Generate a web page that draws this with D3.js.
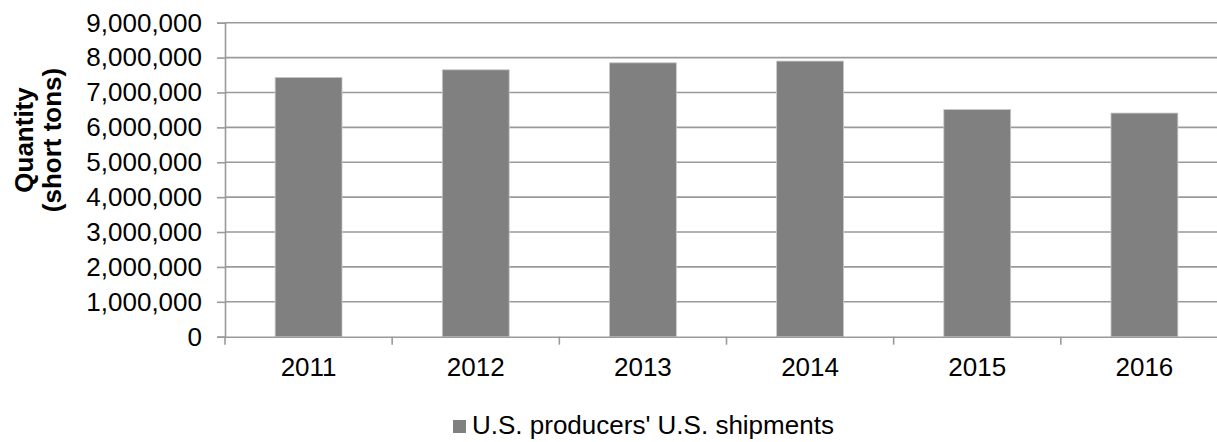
<!DOCTYPE html>
<html>
<head>
<meta charset="utf-8">
<script src="https://cdn.jsdelivr.net/npm/d3@7"></script>
<style>
  html, body { margin: 0; padding: 0; background: #fff; }
  svg { display: block; }
  text { font-family: "Liberation Sans", Arial, sans-serif; fill: #000; }
</style>
</head>
<body>
<svg id="chart" width="1217" height="442"></svg>
<script>
const categories = ["2011", "2012", "2013", "2014", "2015", "2016"];
const shipments = [7430000, 7650000, 7850000, 7900000, 6510000, 6410000];
const yTicks = [0, 1000000, 2000000, 3000000, 4000000, 5000000, 6000000, 7000000, 8000000, 9000000];
const seriesName = "U.S. producers' U.S. shipments";
const yTitle = ["Quantity", "(short tons)"];

const FONT = "Liberation Sans, Arial, sans-serif";
const FS = 26;

const svg = d3.select("#chart");
const plotLeft = 225, plotRight = 1228, plotTop = 22.7, plotBottom = 336.7;

const x = d3.scaleBand().domain(categories).range([plotLeft, plotRight])
  .paddingInner(0.6).paddingOuter(0.3);
const y = d3.scaleLinear().domain([0, 9000000]).range([plotBottom, plotTop]);

const fmt = d3.format(",");

// gridlines
svg.append("g").selectAll("line").data(yTicks.filter(d => d > 0)).join("line")
  .attr("x1", plotLeft).attr("x2", plotRight)
  .attr("y1", d => y(d)).attr("y2", d => y(d))
  .attr("stroke", "#9a9a9a").attr("stroke-width", 1.6);

// bars
svg.append("g").selectAll("rect").data(categories).join("rect")
  .attr("x", d => x(d))
  .attr("y", (d, i) => y(shipments[i]))
  .attr("width", x.bandwidth())
  .attr("height", (d, i) => y(0) - y(shipments[i]))
  .attr("fill", "#808080")
  .attr("stroke", "#c8c8c8").attr("stroke-width", 0.8);

// y axis
const yAxis = d3.axisLeft(y).tickValues(yTicks).tickFormat(fmt).tickSize(8).tickPadding(15);
const gy = svg.append("g").attr("transform", `translate(${plotLeft},0)`).call(yAxis);
gy.attr("font-size", FS).attr("font-family", FONT);
gy.select(".domain").attr("stroke", "#9a9a9a").attr("stroke-width", 1.6);
gy.selectAll(".tick line").attr("stroke", "#9a9a9a").attr("stroke-width", 1.6);
gy.selectAll(".tick text").attr("fill", "#000");

// x axis
const xAxis = d3.axisBottom(x).tickSize(0).tickPadding(21);
const gx = svg.append("g").attr("transform", `translate(0,${plotBottom})`).call(xAxis);
gx.attr("font-size", FS).attr("font-family", FONT);
gx.select(".domain").attr("stroke", "#9a9a9a").attr("stroke-width", 1.6);
gx.selectAll(".tick text").attr("fill", "#000");
// category boundary tick marks
const step = x.step();
const bounds = d3.range(categories.length + 1).map(i => x(categories[0]) - x.paddingOuter() * step + i * step);
svg.append("g").selectAll("line").data(bounds).join("line")
  .attr("x1", d => d).attr("x2", d => d)
  .attr("y1", plotBottom).attr("y2", plotBottom + 8)
  .attr("stroke", "#9a9a9a").attr("stroke-width", 1.6);

// y title
const yt = svg.append("text")
  .attr("transform", "translate(33,140) rotate(-90)")
  .attr("text-anchor", "middle")
  .attr("font-size", FS).attr("font-weight", "bold").attr("font-family", FONT);
yt.append("tspan").attr("x", 0).attr("y", 0).text(yTitle[0]);
yt.append("tspan").attr("x", 0).attr("y", 28).text(yTitle[1]);

// legend
const lg = svg.append("g").attr("transform", "translate(453,420)");
lg.append("rect").attr("width", 13).attr("height", 13).attr("fill", "#808080");
lg.append("text").attr("x", 19).attr("y", 14).attr("font-size", FS).attr("font-family", FONT).text(seriesName);
</script>
</body>
</html>
